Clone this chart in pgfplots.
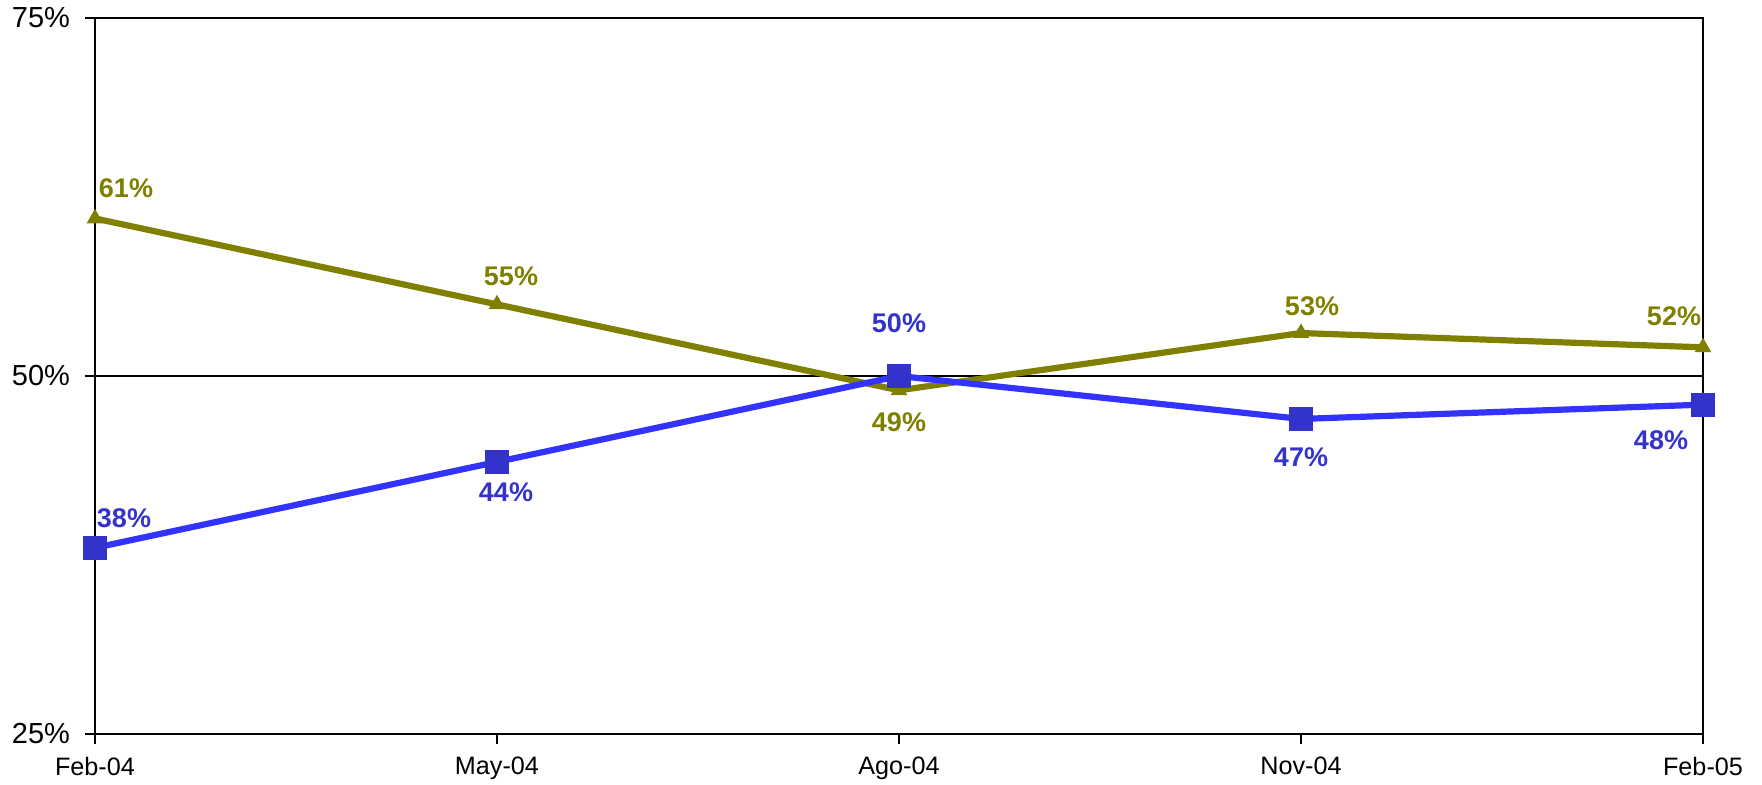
\documentclass[border=0pt]{standalone}
\usepackage{fontspec}
\setmainfont{Liberation Sans}
\usepackage{pgfplots}
\pgfplotsset{compat=1.18}
\usepackage{pgfplotstable}
\definecolor{bline}{HTML}{3333FF}
\definecolor{bmark}{HTML}{3333CC}
\definecolor{olive}{HTML}{808000}
\pgfplotstableread{
x y dx dy lab
0 38 14.5 15 38\%
1 44 4.5 -15 44\%
2 50 0 26.5 50\%
3 47 0 -19 47\%
4 48 -21 -18 48\%
}\bluetab
\pgfplotstableread{
x y dx dy lab
0 61 15.5 15 61\%
1 55 7 14 55\%
2 49 0 -16 49\%
3 53 5.5 13.5 53\%
4 52 -14.5 15.5 52\%
}\olivtab
\begin{document}
\begin{tikzpicture}
\path[use as bounding box] (-47.5pt,-25.5pt) rectangle (833.5pt,367pt);
\begin{axis}[
  at={(0,0)}, anchor=origin,
  scale only axis, width=804pt, height=358pt,
  xmin=0, xmax=4, ymin=25, ymax=75,
  xtick={0,1,2,3,4},
  xticklabels={Feb-04,May-04,Ago-04,Nov-04,Feb-05},
  ytick={25,50,75},
  yticklabels={25\%,50\%,75\%},
  xtick pos=bottom, ytick pos=left,
  tick align=outside,
  major tick length=5pt,
  ymajorgrids,
  grid style={black, line width=1.2pt},
  axis line style={line width=1.2pt},
  tick style={black, line width=1.2pt},
  yticklabel style={font=\fontsize{14.5}{16}\selectfont, xshift=-4pt},
  xticklabel style={font=\fontsize{12.6}{14}\selectfont, yshift=-3pt},
  clip=false,
  nodes near coords={\pgfplotspointmeta},
  point meta=explicit symbolic,
]
\addplot[color=olive, line width=3.1pt, mark=triangle*, mark size=4.3pt,
  mark options={fill=olive, solid, line width=0.5pt},
  visualization depends on={\thisrow{dx} \as \dx},
  visualization depends on={\thisrow{dy} \as \dy},
  nodes near coords style={font=\bfseries\fontsize{13.5}{15}\selectfont, text=olive, anchor=center, xshift=\dx pt, yshift=\dy pt}]
  table[x=x, y=y, meta=lab] {\olivtab};
\addplot[color=bline, line width=3.1pt, mark=square*, mark size=5.75pt,
  mark options={fill=bmark, draw=bmark, line width=0pt, solid},
  visualization depends on={\thisrow{dx} \as \dx},
  visualization depends on={\thisrow{dy} \as \dy},
  nodes near coords style={font=\bfseries\fontsize{13.5}{15}\selectfont, text=bmark, anchor=center, xshift=\dx pt, yshift=\dy pt}]
  table[x=x, y=y, meta=lab] {\bluetab};
\end{axis}
\end{tikzpicture}
\end{document}
